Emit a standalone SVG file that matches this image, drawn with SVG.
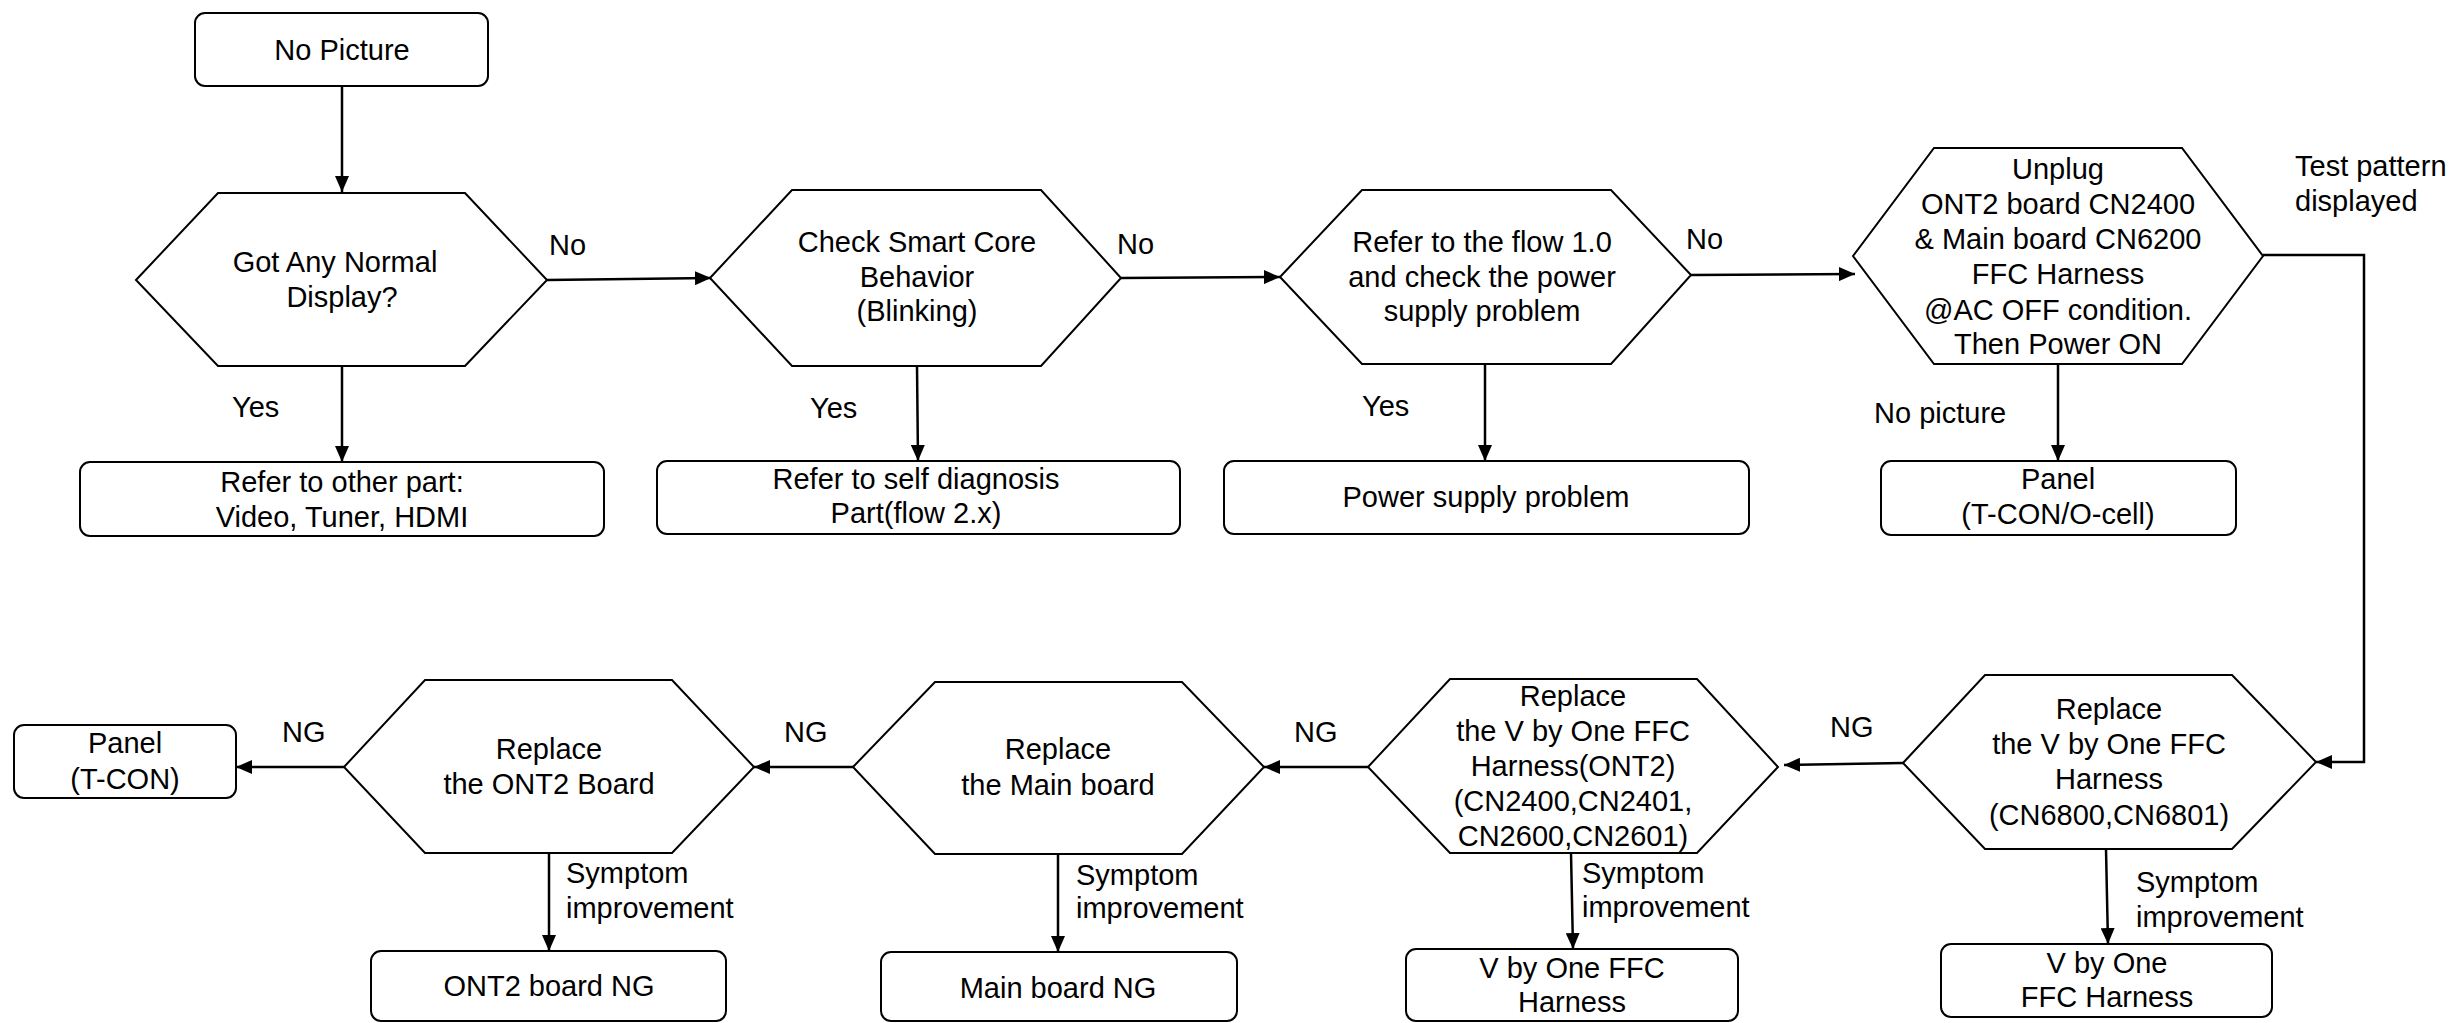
<svg xmlns="http://www.w3.org/2000/svg" width="2456" height="1023" viewBox="0 0 2456 1023">
<style>
text{font-family:"Liberation Sans",Arial,sans-serif;font-size:29px;fill:#000}
.c{text-anchor:middle}
.box{fill:#fff;stroke:#000;stroke-width:2}
.hex{fill:#fff;stroke:#000;stroke-width:2}
.ln{fill:none;stroke:#000;stroke-width:2.5}
</style>
<defs>
<marker id="ah" markerUnits="userSpaceOnUse" markerWidth="16" markerHeight="14" refX="16" refY="7" orient="auto">
<path d="M0,0 L16,7 L0,14 z" fill="#000"/>
</marker>
</defs>
<rect width="2456" height="1023" fill="#fff"/>
<g id="connectors">
<line class="ln" x1="342" y1="86" x2="342" y2="192" marker-end="url(#ah)"/>
<line class="ln" x1="547" y1="280" x2="711" y2="278" marker-end="url(#ah)"/>
<text x="549" y="255">No</text>
<line class="ln" x1="342" y1="366" x2="342" y2="462" marker-end="url(#ah)"/>
<text x="232" y="417">Yes</text>
<line class="ln" x1="1121" y1="278" x2="1280" y2="277" marker-end="url(#ah)"/>
<text x="1117" y="254">No</text>
<line class="ln" x1="917" y1="366" x2="918" y2="461" marker-end="url(#ah)"/>
<text x="810" y="418">Yes</text>
<line class="ln" x1="1691" y1="275" x2="1855" y2="274" marker-end="url(#ah)"/>
<text x="1686" y="249">No</text>
<line class="ln" x1="1485" y1="365" x2="1485" y2="461" marker-end="url(#ah)"/>
<text x="1362" y="416">Yes</text>
<line class="ln" x1="2058" y1="364" x2="2058" y2="461" marker-end="url(#ah)"/>
<text x="1874" y="423">No picture</text>
<polyline class="ln" points="2263,255 2364,255 2364,762 2316,762" marker-end="url(#ah)"/>
<text x="2295" y="176">Test pattern</text>
<text x="2295" y="211">displayed</text>
<line class="ln" x1="1903" y1="763" x2="1784" y2="765" marker-end="url(#ah)"/>
<text x="1830" y="737">NG</text>
<line class="ln" x1="2106" y1="849" x2="2108" y2="944" marker-end="url(#ah)"/>
<text x="2136" y="892">Symptom</text>
<text x="2136" y="927">improvement</text>
<line class="ln" x1="1368" y1="767" x2="1264" y2="767" marker-end="url(#ah)"/>
<text x="1294" y="742">NG</text>
<line class="ln" x1="1571" y1="853" x2="1573" y2="949" marker-end="url(#ah)"/>
<text x="1582" y="883">Symptom</text>
<text x="1582" y="917">improvement</text>
<line class="ln" x1="853" y1="767" x2="754" y2="767" marker-end="url(#ah)"/>
<text x="784" y="742">NG</text>
<line class="ln" x1="1058" y1="854" x2="1058" y2="952" marker-end="url(#ah)"/>
<text x="1076" y="885">Symptom</text>
<text x="1076" y="918">improvement</text>
<line class="ln" x1="344" y1="767" x2="236" y2="767" marker-end="url(#ah)"/>
<text x="282" y="742">NG</text>
<line class="ln" x1="549" y1="853" x2="549" y2="951" marker-end="url(#ah)"/>
<text x="566" y="883">Symptom</text>
<text x="566" y="918">improvement</text>
</g>
<g id="n-start">
<rect class="box" x="195" y="13" width="293" height="73" rx="10"/>
<text class="c" x="342" y="60">No Picture</text>
</g>
<g id="n-normal">
<polygon class="hex" points="136,280 218,193 465,193 547,280 465,366 218,366"/>
<text class="c" x="335" y="272">Got Any Normal</text>
<text class="c" x="342" y="307">Display?</text>
</g>
<g id="n-other">
<rect class="box" x="80" y="462" width="524" height="74" rx="10"/>
<text class="c" x="342" y="492">Refer to other part:</text>
<text class="c" x="342" y="527">Video, Tuner, HDMI</text>
</g>
<g id="n-smart">
<polygon class="hex" points="710,278 792,190 1041,190 1121,278 1041,366 792,366"/>
<text class="c" x="917" y="252">Check Smart Core</text>
<text class="c" x="917" y="287">Behavior</text>
<text class="c" x="917" y="321">(Blinking)</text>
</g>
<g id="n-self">
<rect class="box" x="657" y="461" width="523" height="73" rx="10"/>
<text class="c" x="916" y="489">Refer to self diagnosis</text>
<text class="c" x="916" y="523">Part(flow 2.x)</text>
</g>
<g id="n-flow">
<polygon class="hex" points="1280,277 1362,190 1611,190 1691,275 1611,364 1362,364"/>
<text class="c" x="1482" y="252">Refer to the flow 1.0</text>
<text class="c" x="1482" y="287">and check the power</text>
<text class="c" x="1482" y="321">supply problem</text>
</g>
<g id="n-power">
<rect class="box" x="1224" y="461" width="525" height="73" rx="10"/>
<text class="c" x="1486" y="507">Power supply problem</text>
</g>
<g id="n-unplug">
<polygon class="hex" points="1853,256 1934,148 2182,148 2263,256 2182,364 1934,364"/>
<text class="c" x="2058" y="179">Unplug</text>
<text class="c" x="2058" y="214">ONT2 board CN2400</text>
<text class="c" x="2058" y="249">&amp; Main board CN6200</text>
<text class="c" x="2058" y="284">FFC Harness</text>
<text class="c" x="2058" y="320">@AC OFF condition.</text>
<text class="c" x="2058" y="354">Then Power ON</text>
</g>
<g id="n-panel1">
<rect class="box" x="1881" y="461" width="355" height="74" rx="10"/>
<text class="c" x="2058" y="489">Panel</text>
<text class="c" x="2058" y="524">(T-CON/O-cell)</text>
</g>
<g id="n-vbo1">
<polygon class="hex" points="1903,763 1985,675 2232,675 2316,762 2232,849 1985,849"/>
<text class="c" x="2109" y="719">Replace</text>
<text class="c" x="2109" y="754">the V by One FFC</text>
<text class="c" x="2109" y="789">Harness</text>
<text class="c" x="2109" y="825">(CN6800,CN6801)</text>
</g>
<g id="n-vbo1-ng">
<rect class="box" x="1941" y="944" width="331" height="73" rx="10"/>
<text class="c" x="2107" y="973">V by One</text>
<text class="c" x="2107" y="1007">FFC Harness</text>
</g>
<g id="n-vbo2">
<polygon class="hex" points="1368,767 1450,679 1697,679 1778,767 1697,853 1450,853"/>
<text class="c" x="1573" y="706">Replace</text>
<text class="c" x="1573" y="741">the V by One FFC</text>
<text class="c" x="1573" y="776">Harness(ONT2)</text>
<text class="c" x="1573" y="811">(CN2400,CN2401,</text>
<text class="c" x="1573" y="846">CN2600,CN2601)</text>
</g>
<g id="n-vbo2-ng">
<rect class="box" x="1406" y="949" width="332" height="72" rx="10"/>
<text class="c" x="1572" y="978">V by One FFC</text>
<text class="c" x="1572" y="1012">Harness</text>
</g>
<g id="n-main">
<polygon class="hex" points="853,767 935,682 1182,682 1264,767 1182,854 935,854"/>
<text class="c" x="1058" y="759">Replace</text>
<text class="c" x="1058" y="795">the Main board</text>
</g>
<g id="n-main-ng">
<rect class="box" x="881" y="952" width="356" height="69" rx="10"/>
<text class="c" x="1058" y="998">Main board NG</text>
</g>
<g id="n-ont2">
<polygon class="hex" points="344,767 425,680 672,680 754,767 672,853 425,853"/>
<text class="c" x="549" y="759">Replace</text>
<text class="c" x="549" y="794">the ONT2 Board</text>
</g>
<g id="n-ont2-ng">
<rect class="box" x="371" y="951" width="355" height="70" rx="10"/>
<text class="c" x="549" y="996">ONT2 board NG</text>
</g>
<g id="n-panel2">
<rect class="box" x="14" y="725" width="222" height="73" rx="10"/>
<text class="c" x="125" y="753">Panel</text>
<text class="c" x="125" y="789">(T-CON)</text>
</g>
</svg>
